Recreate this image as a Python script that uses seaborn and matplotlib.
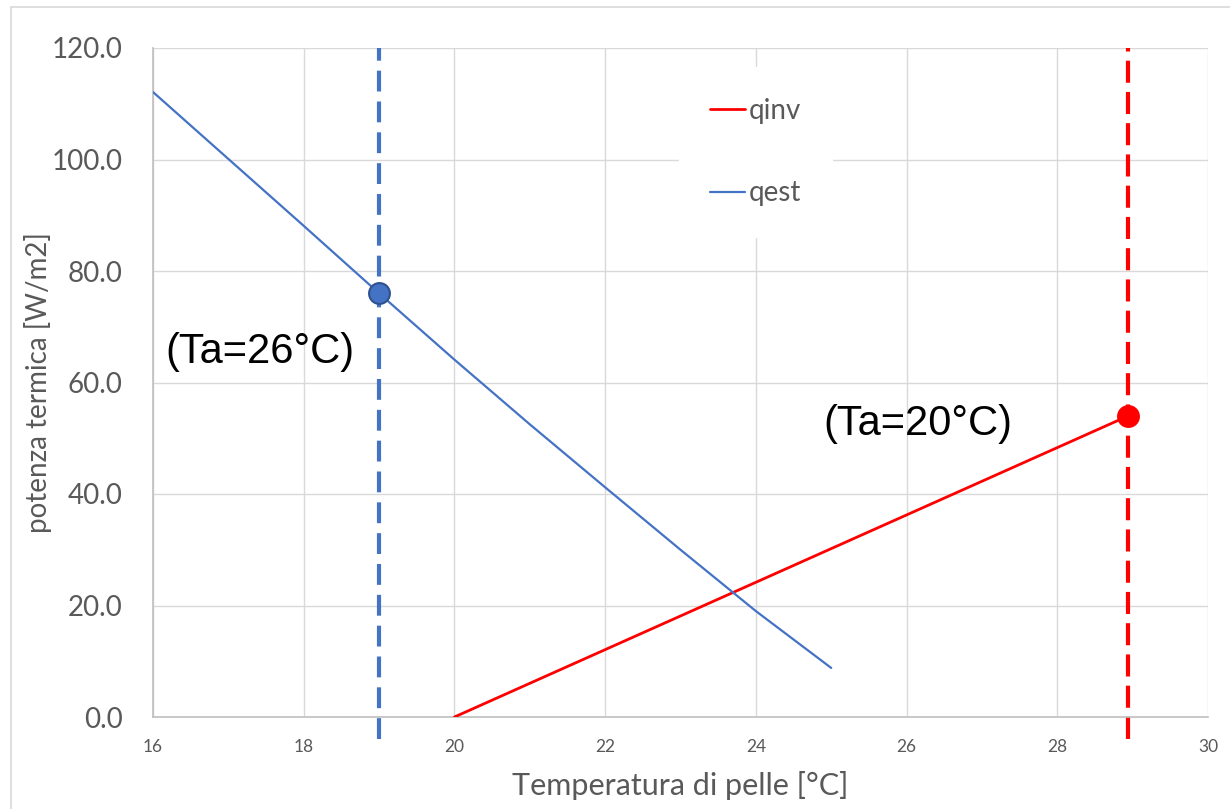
import numpy as np
import pandas as pd
import matplotlib
matplotlib.use("Agg")
import matplotlib.pyplot as plt
from matplotlib.lines import Line2D
import seaborn as sns

# Data
t_est = [16, 17, 18, 19, 20, 21, 22, 23, 24, 25]
q_est = [112.1, 100.1, 88.1, 76.0, 64.1, 52.5, 41.2, 30.0, 19.0, 8.8]
t_inv = [20, 28.94]
q_inv = [0.0, 54.0]

pt_est = (19.0, 76.0)
pt_inv = (28.94, 54.0)
labels = ["(Ta=26°C)", "(Ta=20°C)"]

x_ticks = [16, 18, 20, 22, 24, 26, 28, 30]
y_ticks = [0, 20, 40, 60, 80, 100, 120]

BLUE = "#4472C4"
RED = "#FF0000"
GRID = "#D9D9D9"
TXT = "#595959"

sns.set_theme(style="white")
plt.rcParams["font.family"] = ["Lato", "DejaVu Sans"]

fig = plt.figure(figsize=(12.3, 8.09), dpi=100)
ax = fig.add_axes([153 / 1230, 1 - 717 / 809, 1055 / 1230, 669 / 809])

df = pd.concat([
    pd.DataFrame({"T": t_inv, "q": q_inv, "serie": "qinv"}),
    pd.DataFrame({"T": t_est, "q": q_est, "serie": "qest"}),
], ignore_index=True)

sns.lineplot(data=df[df.serie == "qinv"], x="T", y="q", color=RED, lw=2.0,
             ax=ax, label="qinv", zorder=3)
sns.lineplot(data=df[df.serie == "qest"], x="T", y="q", color=BLUE, lw=1.6,
             ax=ax, label="qest", zorder=3)

# vertical dashed reference lines
ax.plot([pt_est[0]] * 2, [-4.0, 120], color=BLUE, lw=3, dashes=(5, 2.4),
        clip_on=False, zorder=2)
ax.plot([pt_inv[0]] * 2, [-4.0, 120], color=RED, lw=3, dashes=(5.3, 2.2),
        clip_on=False, zorder=2)

ax.plot(*pt_est, marker="o", ms=15, mfc=BLUE, mec="#2F528F", mew=1.5,
        zorder=5, clip_on=False)
ax.plot(*pt_inv, marker="o", ms=16.5, mfc=RED, mec=RED, mew=0,
        zorder=5, clip_on=False)

ax.text(16.16, 65.5, labels[0], fontsize=30, family=["Liberation Sans"],
        ha="left", va="center", color="black")
ax.text(24.89, 52.6, labels[1], fontsize=30, family=["Liberation Sans"],
        ha="left", va="center", color="black")

ax.set_xlim(16, 30)
ax.set_ylim(0, 120)
ax.set_xticks(x_ticks)
ax.set_yticks(y_ticks)
ax.set_yticklabels([f"{v:.1f}" for v in y_ticks])
ax.tick_params(axis="y", length=0, pad=22, labelsize=20, labelcolor=TXT)
ax.tick_params(axis="x", length=0, pad=16, labelsize=12.5, labelcolor=TXT)
ax.grid(True, color=GRID, lw=1)
ax.set_axisbelow(True)
for s in ["top", "right"]:
    ax.spines[s].set_visible(False)
for s in ["left", "bottom"]:
    ax.spines[s].set_color("#BFBFBF")
    ax.spines[s].set_linewidth(1.2)

ax.set_xlabel("Temperatura di pelle [°C]", fontsize=22, color=TXT, va="center")
ax.set_ylabel("potenza termica [W/m2]", fontsize=20, color=TXT, va="center")
ax.xaxis.set_label_coords(0.4995, -(785 - 717) / 669)
ax.yaxis.set_label_coords((38 - 153) / 1055, 0.5)

leg = ax.legend(loc="upper left", bbox_to_anchor=(526 / 1055, 1 - 19 / 669),
                frameon=True, fontsize=20, handlelength=1.26, handletextpad=0.15,
                labelspacing=2.05, borderpad=1.1, borderaxespad=0)
leg.get_frame().set_facecolor("white")
leg.get_frame().set_edgecolor("white")
leg.get_frame().set_alpha(1)
leg.get_frame().set_boxstyle("square", pad=0)
for t in leg.get_texts():
    t.set_color(TXT)

# chart area border (only left and top edges visible)
fig.add_artist(Line2D([11 / 1230, 11 / 1230], [0, 1 - 7 / 809], color=GRID, lw=1.2))
fig.add_artist(Line2D([11 / 1230, 1], [1 - 7 / 809, 1 - 7 / 809], color=GRID, lw=1.2))

fig.savefig("out.png", dpi=100)
